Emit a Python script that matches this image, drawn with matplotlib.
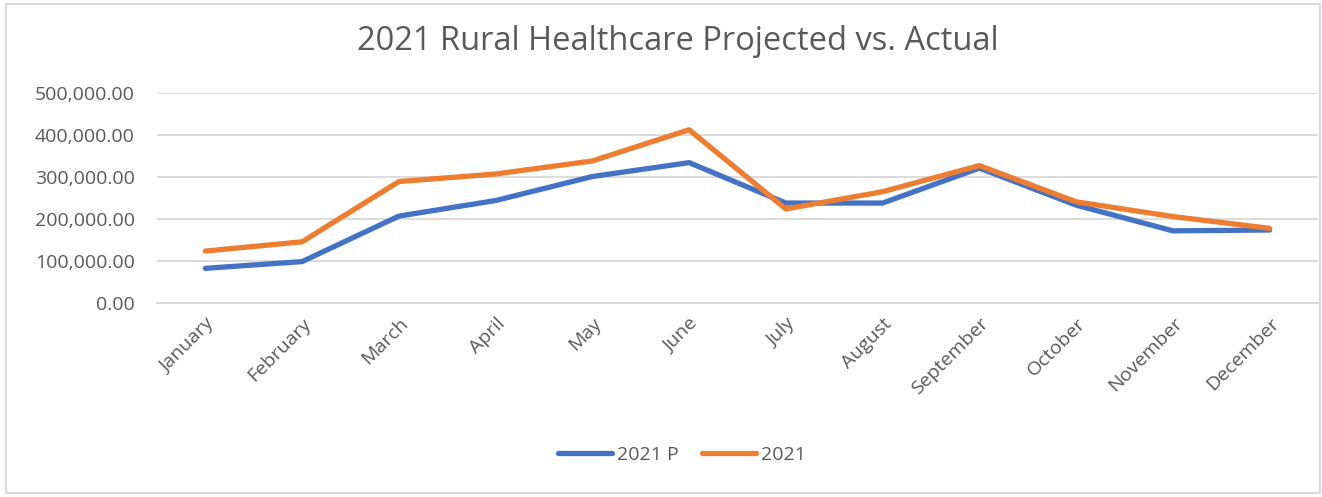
import matplotlib
matplotlib.use("Agg")
import matplotlib.pyplot as plt
from matplotlib.ticker import FuncFormatter
from matplotlib.patches import Rectangle

months = ["January", "February", "March", "April", "May", "June", "July",
          "August", "September", "October", "November", "December"]
projected_2021 = [83000, 99000, 207000, 244000, 301000, 334000, 238000,
                  238000, 321000, 233000, 172000, 174000]
actual_2021 = [124000, 146000, 289000, 307000, 338000, 412000, 224000,
               265000, 327000, 241000, 206000, 178000]
y_ticks = [0, 100000, 200000, 300000, 400000, 500000]

plt.rcParams['font.family'] = ['Open Sans', 'DejaVu Sans']
text_color = '#595959'

fig = plt.figure(figsize=(13.22, 4.97), dpi=100)
fig.patches.append(Rectangle((6/1322, 4/497), (1320-6)/1322, (497-8)/497,
                             transform=fig.transFigure, fill=False,
                             edgecolor='#D9D9D9', linewidth=1.5))
ax = fig.add_axes([157/1322, 1-303.3/497, (1318-157)/1322, (303.3-92.7)/497])

x = list(range(len(months)))
ax.plot(x, projected_2021, color='#4472C4', linewidth=3.8, label='2021 P',
        solid_joinstyle='round', solid_capstyle='round')
ax.plot(x, actual_2021, color='#ED7D31', linewidth=3.8, label='2021',
        solid_joinstyle='round', solid_capstyle='round')

ax.set_xlim(-0.5, len(months) - 0.5)
ax.set_ylim(0, 500000)
ax.set_yticks(y_ticks)
ax.yaxis.set_major_formatter(FuncFormatter(lambda v, p: f"{v:,.2f}"))
ax.set_xticks(x)
ax.set_xticklabels(months, rotation=45, ha='right', rotation_mode='anchor')
ax.tick_params(axis='both', length=0, colors=text_color, labelsize=14)
ax.tick_params(axis='y', pad=16)
ax.tick_params(axis='x', pad=8)
ax.grid(axis='y', color='#D9D9D9', linewidth=1.3)
ax.set_axisbelow(True)
for s in ['top', 'right', 'left']:
    ax.spines[s].set_visible(False)
ax.spines['bottom'].set_color('#D9D9D9')
ax.spines['bottom'].set_linewidth(1.3)

fig.text(678/1322, 1-50/497, "2021 Rural Healthcare Projected vs. Actual",
         ha='center', va='baseline', fontsize=23.5, color=text_color)

fig.legend(loc='center', bbox_to_anchor=(682/1322, 1-455/497), ncol=2,
           frameon=False, fontsize=14, labelcolor=text_color,
           handlelength=2.8, handletextpad=0.25, columnspacing=1.2)

fig.savefig("out.png", dpi=100)
